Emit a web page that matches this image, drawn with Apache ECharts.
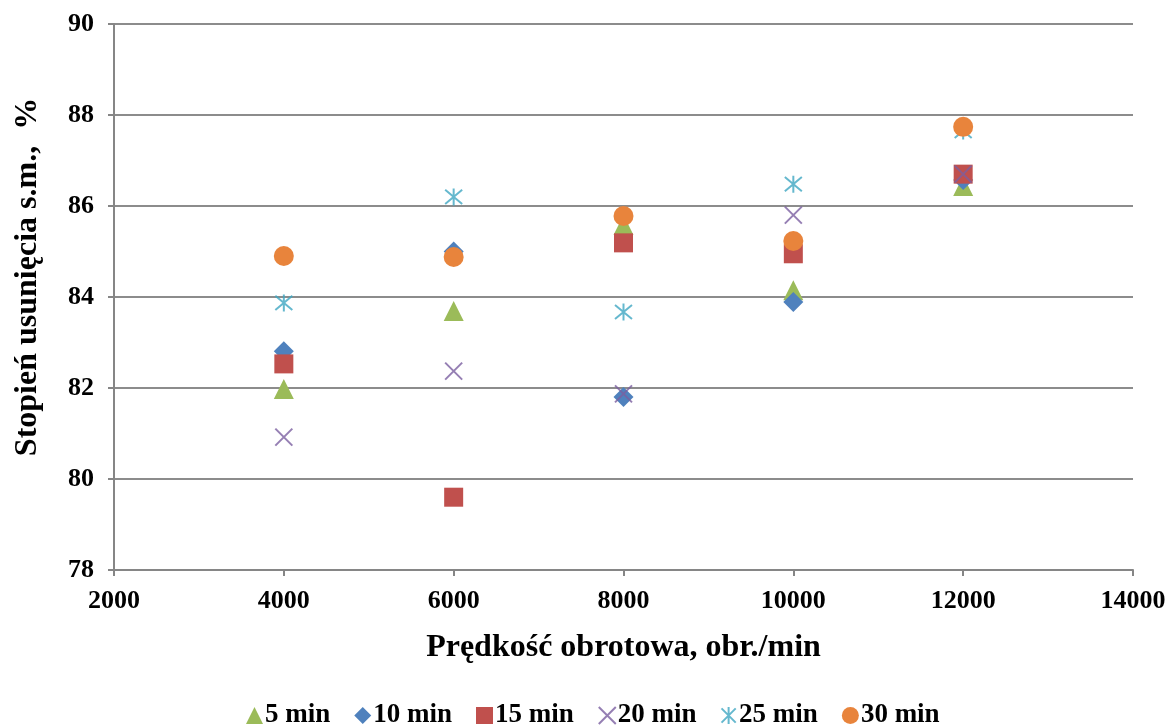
<!DOCTYPE html>
<html>
<head>
<meta charset="utf-8">
<script src="https://cdn.jsdelivr.net/npm/echarts@6/dist/echarts.min.js"></script>
<style>
  html, body { margin: 0; padding: 0; background: #fff; }
  #chart { width: 1170px; height: 728px; }
</style>
</head>
<body>
<div id="chart"></div>
<script>
// Rotational speed (obr./min) on the x axis
const speeds = [4000, 6000, 8000, 10000, 12000];

// Removal degree of dry matter (%) for each centrifugation time
const seriesNames = ['5 min', '10 min', '15 min', '20 min', '25 min', '30 min'];
const v5min  = [81.98, 83.69, 85.58, 84.15, 86.44];
const v10min = [82.81, 85.00, 81.80, 83.89, 86.57];
const v15min = [82.53, 79.60, 85.19, 84.95, 86.70];
const v20min = [80.92, 82.37, 81.87, 85.80, 86.70];
const v25min = [83.87, 86.20, 83.67, 86.48, 87.65];
const v30min = [84.90, 84.88, 85.78, 85.23, 87.74];

const xTicks = { min: 2000, max: 14000, step: 2000 };
const yTicks = { min: 78, max: 90, step: 2 };

const xTitle = 'Prędkość obrotowa, obr./min';
const yTitle = 'Stopień usunięcia s.m.,  %';

const FONT = '"Liberation Serif", "Times New Roman", serif';

const crossPath = 'path://M0,0L10,10M10,0L0,10';
const starPath = 'path://M0,0L10,10M10,0L0,10M5,-1L5,11';

const styles = [
  { symbol: 'triangle', size: 20, color: '#9BBB59', outline: false },
  { symbol: 'diamond', size: 20, color: '#4F81BD', outline: false },
  { symbol: 'rect', size: 19, color: '#C0504D', outline: false },
  { symbol: crossPath, size: 17, color: '#7B5FA0', outline: true },
  { symbol: starPath, size: 17, color: '#3FA6C2', outline: true },
  { symbol: 'circle', size: 20, color: '#E8843C', outline: false }
];
const values = [v5min, v10min, v15min, v20min, v25min, v30min];

const series = seriesNames.map((name, i) => {
  const s = styles[i];
  return {
    name: name,
    type: 'scatter',
    symbol: s.symbol,
    symbolSize: s.size,
    data: speeds.map((x, j) => [x, values[i][j]]),
    itemStyle: s.outline
      ? { color: 'rgba(0,0,0,0)', borderColor: s.color, borderWidth: 2 }
      : { color: s.color, opacity: 1 },
    emphasis: { disabled: true }
  };
});

const chart = echarts.init(document.getElementById('chart'));
chart.setOption({
  animation: false,
  backgroundColor: '#ffffff',
  grid: { left: 114, right: 37, top: 24, bottom: 158, containLabel: false },
  graphic: [{
    type: 'text',
    x: 28,
    y: 277,
    rotation: Math.PI / 2,
    style: {
      text: yTitle,
      font: 'bold 32px ' + FONT,
      fill: '#000',
      align: 'center',
      verticalAlign: 'middle'
    }
  }],
  xAxis: {
    type: 'value',
    min: xTicks.min, max: xTicks.max, interval: xTicks.step,
    name: xTitle,
    nameLocation: 'middle',
    nameGap: 62,
    nameTextStyle: { fontFamily: FONT, fontWeight: 'bold', fontSize: 32, color: '#000' },
    axisLine: { show: true, lineStyle: { color: '#868686', width: 2 } },
    axisTick: { show: true, inside: false, length: 6, lineStyle: { color: '#868686', width: 2 } },
    axisLabel: {
      fontFamily: FONT, fontWeight: 'bold', fontSize: 26, color: '#000', margin: 18,
      formatter: (v) => String(v)
    },
    splitLine: { show: false }
  },
  yAxis: {
    type: 'value',
    min: yTicks.min, max: yTicks.max, interval: yTicks.step,
    axisLine: { show: true, lineStyle: { color: '#868686', width: 2 } },
    axisTick: { show: true, inside: false, length: 6, lineStyle: { color: '#868686', width: 2 } },
    axisLabel: { fontFamily: FONT, fontWeight: 'bold', fontSize: 26, color: '#000', margin: 20 },
    splitLine: { show: true, lineStyle: { color: '#8C8C8C', width: 2 } }
  },
  legend: {
    top: 702,
    left: 246,
    padding: 0,
    itemWidth: 17,
    itemHeight: 17,
    itemGap: 24,
    textStyle: { fontFamily: FONT, fontWeight: 'bold', fontSize: 27, color: '#000', padding: [0, 0, 0, -3] },
    data: seriesNames
  },
  series: series
});
</script>
</body>
</html>
